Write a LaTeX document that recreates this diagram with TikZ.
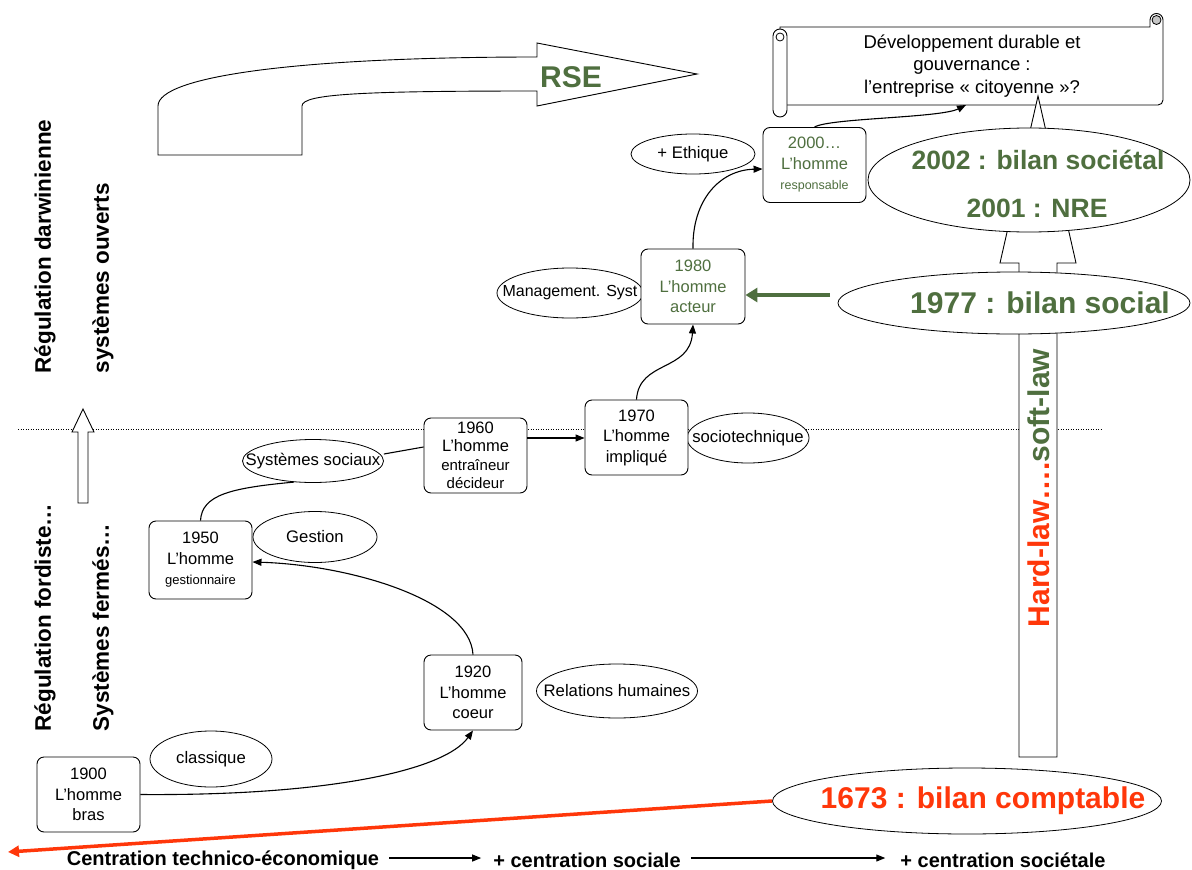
\documentclass[tikz,border=0pt]{standalone}
\usepackage{fontspec}
\setmainfont{Liberation Sans}
\usetikzlibrary{shapes.geometric,arrows.meta,calc}
\definecolor{dgreen}{RGB}{79,111,63}
\definecolor{lred}{RGB}{255,55,10}
\newcommand\fz[2]{\fontsize{#1}{#2}\selectfont}
\begin{document}
\begin{tikzpicture}[x=1pt,y=-1pt,
  box/.style={draw,rounded corners=7pt,fill=white,align=center,inner sep=0pt,font=\fz{16.5}{20.5},line width=0.9pt},
  ell/.style={draw,ellipse,fill=white,inner sep=0pt,line width=0.8pt},
  lab/.style={font=\fz{16.7}{19},inner sep=0pt},
  con/.style={line width=1.1pt},
  arr/.style={-{Triangle[length=9pt,width=7pt]}},
  big/.style={font=\bfseries\fz{30}{34}},
  side/.style={rotate=90,anchor=west,font=\bfseries\fz{22.5}{26}},
  axis/.style={font=\bfseries\fz{20}{24},inner sep=0pt},
  hollow/.style={draw,fill=white,line width=0.9pt}]
\useasboundingbox (0,0) rectangle (1192,870);

% dotted separator
\draw[line width=0.9pt,dash pattern=on 1pt off 1.5pt] (18,429) -- (1103,429);

% RSE curved block arrow
\draw[hollow] (158,155) -- (302,155) -- (302,106)
  .. controls (302,94) and (360,91) .. (537,91) -- (537,106) -- (697,74) -- (537,43) -- (537,57)
  .. controls (300,57) and (158,76) .. (158,106) -- cycle;
\node[font=\bfseries\fz{30}{34},text=dgreen] (rse) at (571,77) {RSE};

% scroll
\draw[hollow] (780,27) -- (1150,27) -- (1150,20) arc[start angle=180,end angle=360,radius=6.5]
  -- (1163,100) arc[start angle=0,end angle=90,radius=5] -- (780,105) -- cycle;
\draw[line width=0.8pt,fill=gray!45] (1156.5,20) circle (4.5);
\draw[hollow] (773,36) -- (773,110) arc[start angle=180,end angle=0,radius=7] -- (787,36)
  arc[start angle=0,end angle=-180,radius=7] -- cycle;
\draw[line width=0.8pt] (780,37) circle (4);
\node[align=center,font=\fz{18.5}{22.5},inner sep=0pt] (scroll) at (972,66)
  {Développement durable et\\gouvernance :\\l’entreprise « citoyenne »?};
\coordinate (scrollb) at (966,105);

% vertical block arrow (hard-law ... soft-law)
\draw[hollow] (1019,757) -- (1019,263) -- (1000,263) -- (1038,96) -- (1076,263) -- (1057,263) -- (1057,757) -- cycle;
\node[rotate=90,font=\bfseries\fz{30}{34},inner sep=0pt] (law) at (1039,488)
  {\textcolor{lred}{Hard-law….}\textcolor{dgreen}{soft-law}};

% big ellipses
\node[ell,minimum width=322pt,minimum height=104pt] (e2002) at (1029,180) {};
\node[big,text=dgreen,font=\bfseries\fz{26.5}{30}] (t2002) at (1038,160) {2002 : bilan sociétal};
\node[big,text=dgreen,font=\bfseries\fz{26.5}{30}] (t2001) at (1037,208) {2001 : NRE};
\node[ell,minimum width=352pt,minimum height=62pt] (e1977) at (1014,303) {};
\node[big,text=dgreen] (t1977) at (1040,303) {1977 : bilan social};
\node[ell,minimum width=389pt,minimum height=66pt] (e1673) at (967,801) {};
\node[big,text=lred] (t1673) at (983,801) {1673 : bilan comptable};

% small ellipses
\node[ell,minimum width=146pt,minimum height=50pt,label={[lab,font=\fz{16}{19}]center:Management. Syst}] (mgmt) at (570,293) {};
\node[ell,minimum width=124pt,minimum height=40pt,label={[lab]center:+ Ethique}] (ethique) at (693,154) {};
\node[ell,minimum width=122pt,minimum height=56pt,label={[lab]center:classique}] (classique) at (211,759) {};
\node[ell,minimum width=161pt,minimum height=54pt,label={[lab]center:Relations humaines}] (relh) at (617,691) {};
\node[ell,minimum width=124pt,minimum height=51pt,label={[lab]center:Gestion}] (gestion) at (315,537) {};
\node[ell,minimum width=141pt,minimum height=43pt,label={[lab]center:Systèmes sociaux}] (syss) at (313,461) {};
\node[ell,minimum width=122pt,minimum height=50pt,label={[lab]center:sociotechnique}] (socio) at (748,438) {};

% boxes
\node[box,minimum width=103pt,minimum height=75pt] (b1900) at (88.5,794.5) {1900\\L'homme\\bras};
\node[box,minimum width=98pt,minimum height=75pt] (b1920) at (473,692.5) {1920\\L’homme\\coeur};
\node[box,minimum width=103pt,minimum height=78pt] (b1950) at (200.5,560) {1950\\L’homme\\{\fz{13}{15}gestionnaire}};
\node[box,minimum width=103pt,minimum height=75pt,font=\fz{16.5}{18.5}] (b1960) at (475.5,455.5) {1960\\L’homme\\{\fz{15}{17}entraîneur}\\{\fz{15}{17}décideur}};
\node[box,minimum width=103pt,minimum height=75pt] (b1970) at (636.5,437.5) {1970\\L’homme\\impliqué};
\node[box,minimum width=104pt,minimum height=75pt,text=dgreen] (b1980) at (693,286.5) {1980\\L’homme\\acteur};
\node[box,minimum width=103pt,minimum height=75pt,text=dgreen] (b2000) at (814.5,165) {2000…\\L’homme\\{\fz{12.5}{15}responsable}};

% left side labels
\node[side] (r1) at (45,377) {Régulation darwinienne};
\node[side] (r2) at (103,377) {systèmes ouverts};
\node[side] (r3) at (45,735) {Régulation fordiste…};
\node[side] (r4) at (103,735) {Systèmes fermés…};
\draw[hollow] (78,503) -- (78,432) -- (72,432) -- (83,409) -- (94,432) -- (88,432) -- (88,503) -- cycle;

% connectors
\draw[con,arr] (b1900.east) .. controls (330,796) and (445,770) .. (b1920.south);
\draw[con,arr] (b1920.north) .. controls (470,600) and (350,565) .. (b1950.east |- 0,562);
\draw[con] (b1950.north) .. controls (202,495) and (230,488) .. (syss.-132);
\draw[con] (syss.east |- 0,454) -- (b1960.west |- 0,447);
\draw[con,arr] (b1960.east |- 0,438) -- (b1970.west |- 0,438);
\draw[con,arr] (b1970.north) .. controls (639,360) and (690,372) .. (b1980.south);
\draw[con,arr] (b1980.north) .. controls (692,200) and (720,170) .. (b2000.west |- 0,169);
\draw[con,arr] (b2000.north) .. controls (830,118) and (940,118) .. (scrollb);

% green and red arrows
\coordinate (gstart) at (830,295);
\draw[dgreen,line width=4pt,-{Triangle[length=12pt,width=14pt]}] (gstart) -- (b1980.east |- 0,295);
\coordinate (rend) at (8,852);
\draw[lred,line width=3.5pt,-{Triangle[length=11pt,width=11pt]}] (e1673.west) -- (rend);

% bottom axis
\node[axis] (a1) at (223,860) {Centration technico-économique};
\node[axis] (a2) at (587,860) {+ centration sociale};
\node[axis] (a3) at (1003,860) {+ centration sociétale};
\draw[line width=1.1pt,arr] ($(a1.east |- 0,858)+(10,0)$) -- ($(a2.west |- 0,858)+(-12,0)$);
\draw[line width=1.1pt,arr] ($(a2.east |- 0,858)+(10,0)$) -- ($(a3.west |- 0,858)+(-15,0)$);
\end{tikzpicture}
\end{document}
